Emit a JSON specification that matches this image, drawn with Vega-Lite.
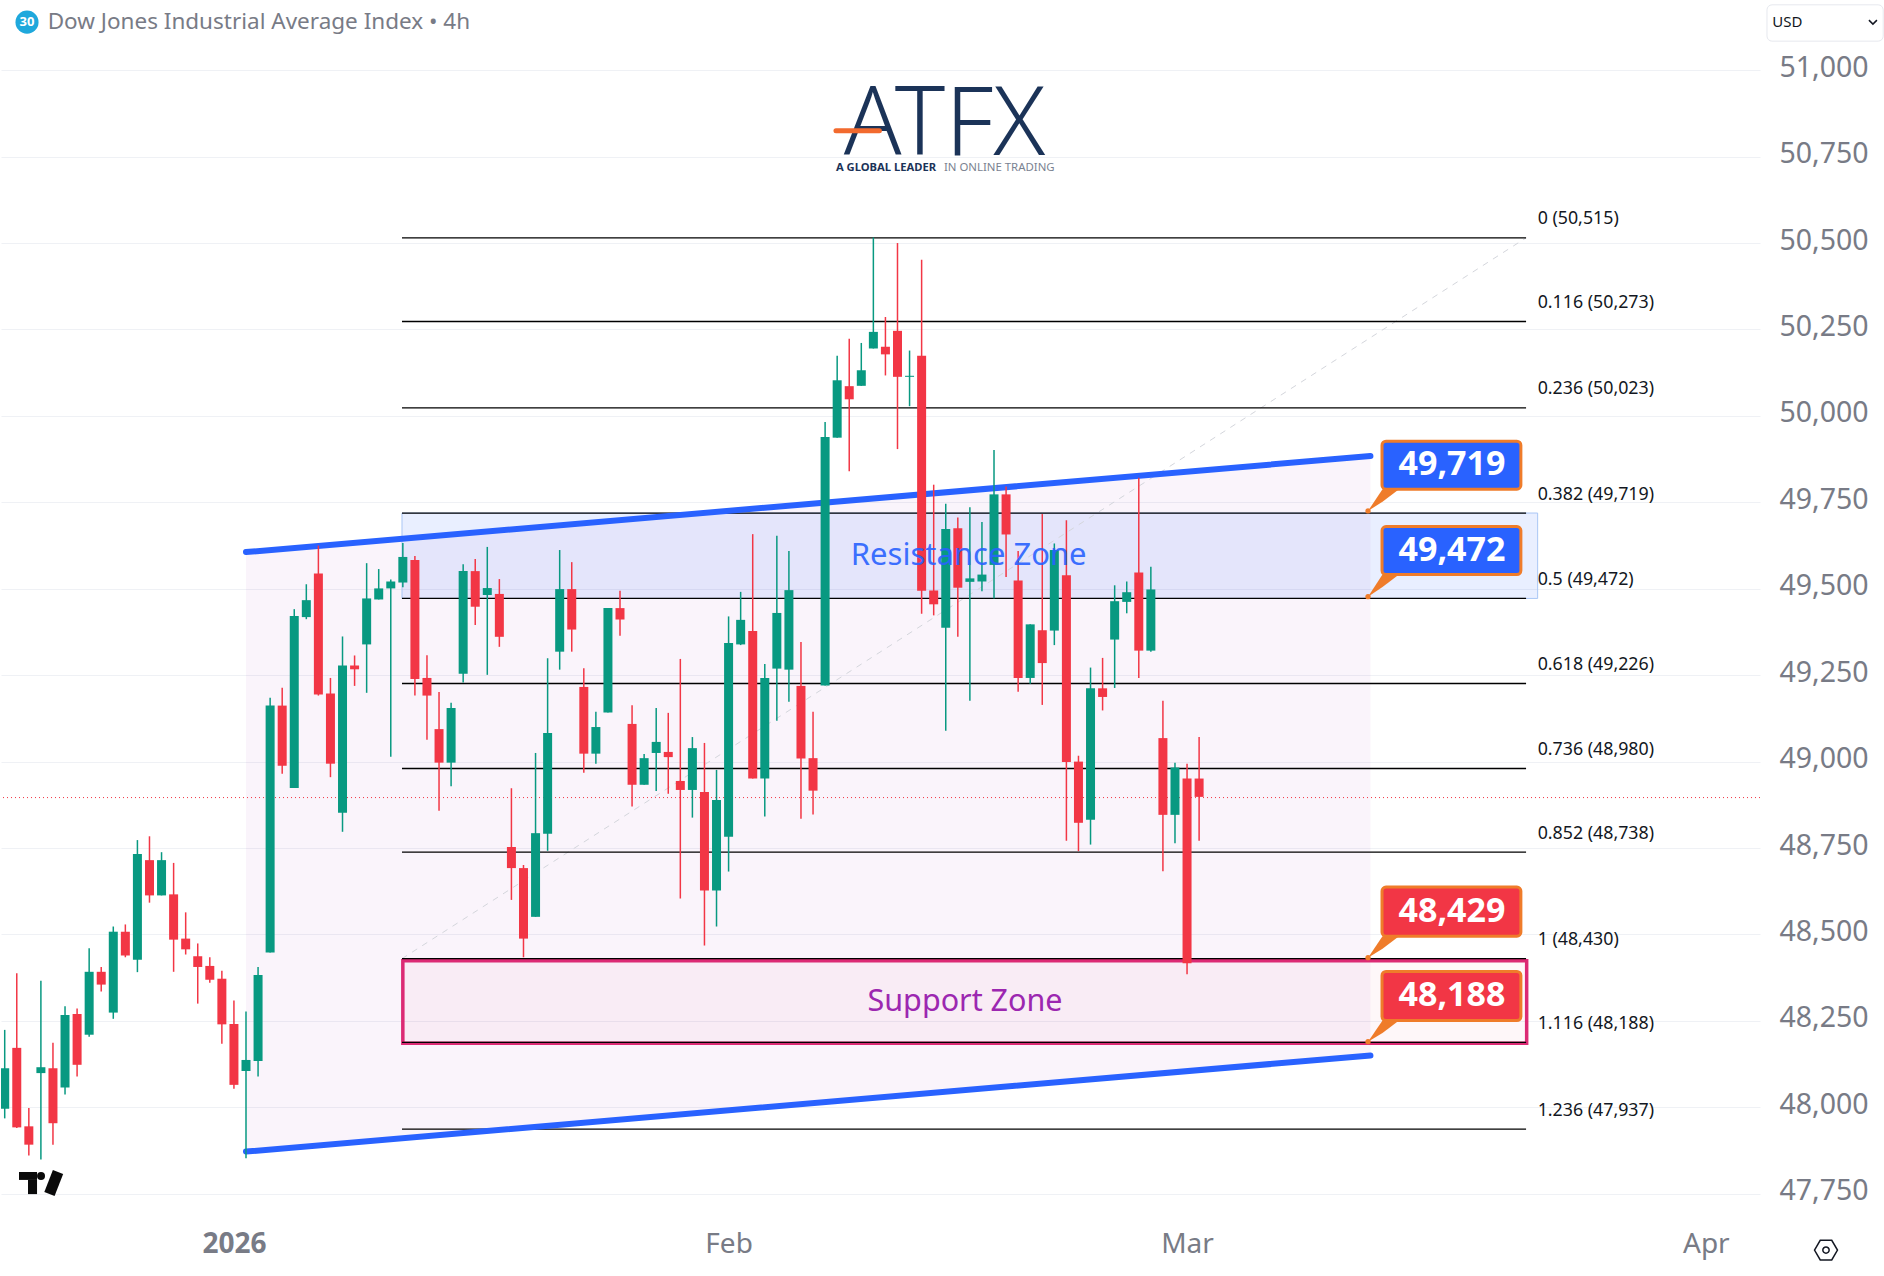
{
"$schema":"https://vega.github.io/schema/vega-lite/v6.json",
"width":1759,"height":1210,"padding":0,"background":"#ffffff",
"config":{"view":{"stroke":null},"scale":{"continuousPadding":0},"axis":{"title":null}},
"layer":[
{"data":{"values":[{"i":20,"top":49606,"bot":47872},{"i":113.2,"top":49884,"bot":48150}]},
 "mark":{"type":"area","color":"#9c27b0","opacity":0.05},
 "encoding":{"x":{"field":"i","type":"quantitative","title":null,"scale":{"domain":[-0.307,145.49],"nice":false,"zero":false},
   "axis":{"values":[19,60,98,141],"labelExpr":"datum.value==19?'2026':datum.value==60?'Feb':datum.value==98?'Mar':'Apr'","labelFontWeight":{"condition":{"test":"datum.value==19","value":"bold"},"value":"normal"},"labelFont":"Noto Sans","labelFontSize":28,"labelColor":"#787b86","labelPadding":20,"grid":false,"domain":false,"ticks":false,"labelOverlap":false,"labelFlush":false,"title":null}},
  "y":{"field":"top","type":"quantitative","title":null,"scale":{"domain":[47703,51203],"nice":false,"zero":false},
   "axis":{"orient":"right","values":[47750,48000,48250,48500,48750,49000,49250,49500,49750,50000,50250,50500,50750,51000],"labelExpr":"format(datum.value,',')","grid":true,"gridColor":"#eff1f5","gridWidth":1,"domain":false,"ticks":false,"labelPadding":19,"labelOffset":-3,"labelFont":"Noto Sans","labelFontSize":28.5,"labelColor":"#787b86","labelOverlap":false,"labelBound":false,"title":null}},
  "y2":{"field":"bot"}}},
{"data":{"values":[{"a":32.93,"b":127.06,"top":49719,"bot":49472}]},
 "mark":{"type":"rect","fill":"#2962ff","fillOpacity":0.1,"stroke":"#a9c6f5","strokeWidth":1},
 "encoding":{"x":{"field":"a","type":"quantitative","scale":{"domain":[-0.307,145.49],"nice":false,"zero":false}},"x2":{"field":"b"},
  "y":{"field":"top","type":"quantitative","scale":{"domain":[47703,51203],"nice":false,"zero":false}},"y2":{"field":"bot"}}},
{"data":{"values":[{"a":33,"b":126.15,"top":48424,"bot":48185}]},
 "mark":{"type":"rect","fill":"#e91e63","fillOpacity":0.035,"stroke":"#dc2a74","strokeWidth":3.5},
 "encoding":{"x":{"field":"a","type":"quantitative","scale":{"domain":[-0.307,145.49],"nice":false,"zero":false}},"x2":{"field":"b"},
  "y":{"field":"top","type":"quantitative","scale":{"domain":[47703,51203],"nice":false,"zero":false}},"y2":{"field":"bot"}}},
{"data":{"values":[{"i":32.93,"p":48430},{"i":126.1,"p":50515}]},
 "mark":{"type":"line","color":"#d4d6dc","strokeWidth":1,"strokeDash":[6,6]},
 "encoding":{"x":{"field":"i","type":"quantitative","scale":{"domain":[-0.307,145.49],"nice":false,"zero":false}},
  "y":{"field":"p","type":"quantitative","scale":{"domain":[47703,51203],"nice":false,"zero":false}}}},
{"data":{"name":"fib","values":[
 {"a":32.93,"b":126.1,"l":127.06,"p":50515,"t":"0 (50,515)"},
 {"a":32.93,"b":126.1,"l":127.06,"p":50273,"t":"0.116 (50,273)"},
 {"a":32.93,"b":126.1,"l":127.06,"p":50023,"t":"0.236 (50,023)"},
 {"a":32.93,"b":126.1,"l":127.06,"p":49719,"t":"0.382 (49,719)"},
 {"a":32.93,"b":126.1,"l":127.06,"p":49472,"t":"0.5 (49,472)"},
 {"a":32.93,"b":126.1,"l":127.06,"p":49226,"t":"0.618 (49,226)"},
 {"a":32.93,"b":126.1,"l":127.06,"p":48980,"t":"0.736 (48,980)"},
 {"a":32.93,"b":126.1,"l":127.06,"p":48738,"t":"0.852 (48,738)"},
 {"a":32.93,"b":126.1,"l":127.06,"p":48430,"t":"1 (48,430)"},
 {"a":32.93,"b":126.1,"l":127.06,"p":48188,"t":"1.116 (48,188)"},
 {"a":32.93,"b":126.1,"l":127.06,"p":47937,"t":"1.236 (47,937)"}]},
 "layer":[
 {"mark":{"type":"rule","color":"#000000","strokeWidth":1.3},
  "encoding":{"x":{"field":"a","type":"quantitative","scale":{"domain":[-0.307,145.49],"nice":false,"zero":false}},"x2":{"field":"b"},
   "y":{"field":"p","type":"quantitative","scale":{"domain":[47703,51203],"nice":false,"zero":false}}}},
 {"mark":{"type":"text","align":"left","baseline":"middle","dy":-18.5,"font":"Noto Sans","fontSize":17.8,"color":"#131722"},
  "encoding":{"x":{"field":"l","type":"quantitative","scale":{"domain":[-0.307,145.49],"nice":false,"zero":false}},
   "y":{"field":"p","type":"quantitative","scale":{"domain":[47703,51203],"nice":false,"zero":false}},"text":{"field":"t"}}}
 ]},
{"data":{"values":[{"i":20,"top":49606,"bot":47872},{"i":113.2,"top":49884,"bot":48150}]},
 "layer":[
 {"mark":{"type":"line","color":"#2962ff","strokeWidth":6,"strokeCap":"round"},
  "encoding":{"x":{"field":"i","type":"quantitative","scale":{"domain":[-0.307,145.49],"nice":false,"zero":false}},
   "y":{"field":"top","type":"quantitative","scale":{"domain":[47703,51203],"nice":false,"zero":false}}}},
 {"mark":{"type":"line","color":"#2962ff","strokeWidth":6,"strokeCap":"round"},
  "encoding":{"x":{"field":"i","type":"quantitative","scale":{"domain":[-0.307,145.49],"nice":false,"zero":false}},
   "y":{"field":"bot","type":"quantitative","scale":{"domain":[47703,51203],"nice":false,"zero":false}}}}
 ]},
{"data":{"values":[{"p":48896}]},
 "mark":{"type":"rule","color":"#f23645","strokeWidth":1,"strokeDash":[1,3]},
 "encoding":{"y":{"field":"p","type":"quantitative","scale":{"domain":[47703,51203],"nice":false,"zero":false}}}},
{"data":{"name":"candles","values":[
{"i":0,"o":47996,"h":48224,"l":47968,"c":48113},
{"i":1,"o":48172,"h":48388,"l":47940,"c":47942},
{"i":2,"o":47945,"h":47998,"l":47861,"c":47892},
{"i":3,"o":48099,"h":48366,"l":47849,"c":48116},
{"i":4,"o":48113,"h":48187,"l":47892,"c":47954},
{"i":5,"o":48057,"h":48292,"l":48037,"c":48267},
{"i":6,"o":48270,"h":48286,"l":48089,"c":48123},
{"i":7,"o":48210,"h":48460,"l":48204,"c":48392},
{"i":8,"o":48392,"h":48406,"l":48335,"c":48355},
{"i":9,"o":48274,"h":48523,"l":48256,"c":48508},
{"i":10,"o":48508,"h":48529,"l":48434,"c":48439},
{"i":11,"o":48427,"h":48773,"l":48391,"c":48733},
{"i":12,"o":48715,"h":48784,"l":48592,"c":48613},
{"i":13,"o":48613,"h":48738,"l":48613,"c":48715},
{"i":14,"o":48616,"h":48707,"l":48392,"c":48485},
{"i":15,"o":48488,"h":48564,"l":48442,"c":48457},
{"i":16,"o":48437,"h":48474,"l":48300,"c":48406},
{"i":17,"o":48409,"h":48434,"l":48360,"c":48369},
{"i":18,"o":48372,"h":48395,"l":48184,"c":48240},
{"i":19,"o":48241,"h":48309,"l":48054,"c":48065},
{"i":20,"o":48105,"h":48277,"l":47853,"c":48137},
{"i":21,"o":48134,"h":48406,"l":48089,"c":48383},
{"i":22,"o":48448,"h":49185,"l":48448,"c":49162},
{"i":23,"o":49162,"h":49214,"l":48965,"c":48988},
{"i":24,"o":48924,"h":49441,"l":48924,"c":49421},
{"i":25,"o":49418,"h":49513,"l":49412,"c":49467},
{"i":26,"o":49544,"h":49625,"l":49191,"c":49194},
{"i":27,"o":49197,"h":49242,"l":48955,"c":48994},
{"i":28,"o":48852,"h":49362,"l":48797,"c":49278},
{"i":29,"o":49278,"h":49307,"l":49219,"c":49267},
{"i":30,"o":49339,"h":49574,"l":49199,"c":49472},
{"i":31,"o":49469,"h":49557,"l":49469,"c":49501},
{"i":32,"o":49501,"h":49527,"l":49014,"c":49521},
{"i":33,"o":49518,"h":49632,"l":49504,"c":49592},
{"i":34,"o":49583,"h":49595,"l":49191,"c":49239},
{"i":35,"o":49242,"h":49308,"l":49063,"c":49191},
{"i":36,"o":49094,"h":49201,"l":48858,"c":48997},
{"i":37,"o":48997,"h":49170,"l":48929,"c":49155},
{"i":38,"o":49254,"h":49571,"l":49229,"c":49551},
{"i":39,"o":49551,"h":49586,"l":49395,"c":49448},
{"i":40,"o":49482,"h":49621,"l":49251,"c":49502},
{"i":41,"o":49485,"h":49528,"l":49332,"c":49361},
{"i":42,"o":48753,"h":48923,"l":48600,"c":48692},
{"i":43,"o":48692,"h":48701,"l":48434,"c":48488},
{"i":44,"o":48551,"h":49025,"l":48551,"c":48793},
{"i":45,"o":48791,"h":49299,"l":48742,"c":49083},
{"i":46,"o":49318,"h":49612,"l":49266,"c":49499},
{"i":47,"o":49499,"h":49577,"l":49318,"c":49382},
{"i":48,"o":49216,"h":49270,"l":48968,"c":49023},
{"i":49,"o":49023,"h":49144,"l":48994,"c":49100},
{"i":50,"o":49142,"h":49444,"l":49142,"c":49444},
{"i":51,"o":49444,"h":49494,"l":49364,"c":49411},
{"i":52,"o":49109,"h":49163,"l":48870,"c":48933},
{"i":53,"o":48933,"h":49022,"l":48933,"c":49010},
{"i":54,"o":49025,"h":49155,"l":48915,"c":49057},
{"i":55,"o":49028,"h":49141,"l":48907,"c":49013},
{"i":56,"o":48944,"h":49297,"l":48604,"c":48918},
{"i":57,"o":48918,"h":49071,"l":48838,"c":49039},
{"i":58,"o":48912,"h":49054,"l":48468,"c":48627},
{"i":59,"o":48627,"h":48976,"l":48523,"c":48889},
{"i":60,"o":48783,"h":49420,"l":48682,"c":49343},
{"i":61,"o":49339,"h":49491,"l":49337,"c":49410},
{"i":62,"o":49378,"h":49658,"l":48951,"c":48951},
{"i":63,"o":48951,"h":49282,"l":48841,"c":49242},
{"i":64,"o":49269,"h":49653,"l":49118,"c":49430},
{"i":65,"o":49266,"h":49609,"l":49173,"c":49496},
{"i":66,"o":49219,"h":49346,"l":48835,"c":49009},
{"i":67,"o":49010,"h":49144,"l":48847,"c":48916},
{"i":68,"o":49220,"h":49982,"l":49220,"c":49939},
{"i":69,"o":49937,"h":50174,"l":49937,"c":50103},
{"i":70,"o":50086,"h":50223,"l":49840,"c":50048},
{"i":71,"o":50087,"h":50211,"l":50087,"c":50132},
{"i":72,"o":50195,"h":50516,"l":50195,"c":50243},
{"i":73,"o":50200,"h":50286,"l":50117,"c":50178},
{"i":74,"o":50246,"h":50500,"l":49904,"c":50113},
{"i":75,"o":50113,"h":50189,"l":50028,"c":50116},
{"i":76,"o":50174,"h":50452,"l":49428,"c":49494},
{"i":77,"o":49495,"h":49801,"l":49423,"c":49455},
{"i":78,"o":49387,"h":49746,"l":49089,"c":49673},
{"i":79,"o":49675,"h":49706,"l":49361,"c":49503},
{"i":80,"o":49520,"h":49736,"l":49176,"c":49530},
{"i":81,"o":49521,"h":49693,"l":49493,"c":49541},
{"i":82,"o":49569,"h":49901,"l":49472,"c":49773},
{"i":83,"o":49773,"h":49796,"l":49534,"c":49657},
{"i":84,"o":49524,"h":49609,"l":49202,"c":49242},
{"i":85,"o":49242,"h":49397,"l":49225,"c":49397},
{"i":86,"o":49380,"h":49716,"l":49164,"c":49285},
{"i":87,"o":49379,"h":49631,"l":49337,"c":49612},
{"i":88,"o":49539,"h":49698,"l":48771,"c":48999},
{"i":89,"o":49000,"h":49017,"l":48741,"c":48823},
{"i":90,"o":48832,"h":49272,"l":48760,"c":49212},
{"i":91,"o":49212,"h":49300,"l":49148,"c":49187},
{"i":92,"o":49353,"h":49510,"l":49213,"c":49464},
{"i":93,"o":49462,"h":49521,"l":49429,"c":49490},
{"i":94,"o":49547,"h":49821,"l":49242,"c":49321},
{"i":95,"o":49321,"h":49564,"l":49318,"c":49498},
{"i":96,"o":49068,"h":49176,"l":48683,"c":48846},
{"i":97,"o":48846,"h":48997,"l":48764,"c":48983},
{"i":98,"o":48951,"h":48994,"l":48385,"c":48417},
{"i":99,"o":48951,"h":49071,"l":48771,"c":48898}]},
 "layer":[
 {"mark":{"type":"rule","strokeWidth":1.5,"clip":true},
  "encoding":{"x":{"field":"i","type":"quantitative","scale":{"domain":[-0.307,145.49],"nice":false,"zero":false}},
   "y":{"field":"l","type":"quantitative","scale":{"domain":[47703,51203],"nice":false,"zero":false}},"y2":{"field":"h"},
   "color":{"condition":{"test":"datum.c>=datum.o","value":"#089981"},"value":"#f23645"}}},
 {"mark":{"type":"bar","width":9,"clip":true},
  "encoding":{"x":{"field":"i","type":"quantitative","scale":{"domain":[-0.307,145.49],"nice":false,"zero":false}},
   "y":{"field":"o","type":"quantitative","scale":{"domain":[47703,51203],"nice":false,"zero":false}},"y2":{"field":"c"},
   "color":{"condition":{"test":"datum.c>=datum.o","value":"#089981"},"value":"#f23645"}}}
 ]},
{"data":{"values":[
 {"k":"a","i":113,"y1":49725,"y2":49725},{"k":"a","i":114.2,"y1":49788,"y2":49752},{"k":"a","i":115.57,"y1":49788,"y2":49788},
 {"k":"b","i":113,"y1":49477,"y2":49477},{"k":"b","i":114.2,"y1":49541,"y2":49505},{"k":"b","i":115.57,"y1":49541,"y2":49541},
 {"k":"c","i":113,"y1":48433,"y2":48433},{"k":"c","i":114.2,"y1":48495,"y2":48459},{"k":"c","i":115.57,"y1":48495,"y2":48495},
 {"k":"d","i":113,"y1":48190,"y2":48190},{"k":"d","i":114.2,"y1":48251,"y2":48215},{"k":"d","i":115.57,"y1":48251,"y2":48251}]},
 "mark":{"type":"area","color":"#ef7c2a"},
 "encoding":{"x":{"field":"i","type":"quantitative","scale":{"domain":[-0.307,145.49],"nice":false,"zero":false}},
  "y":{"field":"y1","type":"quantitative","scale":{"domain":[47703,51203],"nice":false,"zero":false}},"y2":{"field":"y2"},"detail":{"field":"k"}}},
{"data":{"values":[{"i":113,"p":49725},{"i":113,"p":49477},{"i":113,"p":48433},{"i":113,"p":48190}]},
 "mark":{"type":"point","filled":true,"size":28,"color":"#ef7c2a","opacity":1},
 "encoding":{"x":{"field":"i","type":"quantitative","scale":{"domain":[-0.307,145.49],"nice":false,"zero":false}},
  "y":{"field":"p","type":"quantitative","scale":{"domain":[47703,51203],"nice":false,"zero":false}}}},
{"data":{"values":[
 {"a":114.16,"b":125.67,"top":49927,"bot":49788,"m":119.96,"mid":49857,"t":"49,719","kind":"res"},
 {"a":114.16,"b":125.67,"top":49680,"bot":49541,"m":119.96,"mid":49610,"t":"49,472","kind":"res"},
 {"a":114.16,"b":125.67,"top":48637,"bot":48495,"m":119.96,"mid":48566,"t":"48,429","kind":"sup"},
 {"a":114.16,"b":125.67,"top":48393,"bot":48251,"m":119.96,"mid":48322,"t":"48,188","kind":"sup"}]},
 "layer":[
 {"mark":{"type":"rect","stroke":"#ef7c2a","strokeWidth":3,"cornerRadius":4},
  "encoding":{"x":{"field":"a","type":"quantitative","scale":{"domain":[-0.307,145.49],"nice":false,"zero":false}},"x2":{"field":"b"},
   "y":{"field":"top","type":"quantitative","scale":{"domain":[47703,51203],"nice":false,"zero":false}},"y2":{"field":"bot"},
   "fill":{"field":"kind","scale":{"domain":["res","sup"],"range":["#2962ff","#f23645"]},"legend":null}}},
 {"mark":{"type":"text","align":"center","baseline":"middle","font":"Noto Sans","fontWeight":"bold","fontSize":34,"color":"#ffffff"},
  "encoding":{"x":{"field":"m","type":"quantitative","scale":{"domain":[-0.307,145.49],"nice":false,"zero":false}},
   "y":{"field":"mid","type":"quantitative","scale":{"domain":[47703,51203],"nice":false,"zero":false}},"text":{"field":"t"}}}
 ]},
{"data":{"values":[{"i":79.9,"p":49595,"t":"Resistance Zone"}]},
 "mark":{"type":"text","align":"center","baseline":"middle","font":"Noto Sans","fontSize":31,"color":"#2962ff","opacity":0.9},
 "encoding":{"x":{"field":"i","type":"quantitative","scale":{"domain":[-0.307,145.49],"nice":false,"zero":false}},
  "y":{"field":"p","type":"quantitative","scale":{"domain":[47703,51203],"nice":false,"zero":false}},"text":{"field":"t"}}},
{"data":{"values":[{"i":79.6,"p":48305,"t":"Support Zone"}]},
 "mark":{"type":"text","align":"center","baseline":"middle","font":"Noto Sans","fontSize":30.5,"color":"#9c27b0"},
 "encoding":{"x":{"field":"i","type":"quantitative","scale":{"domain":[-0.307,145.49],"nice":false,"zero":false}},
  "y":{"field":"p","type":"quantitative","scale":{"domain":[47703,51203],"nice":false,"zero":false}},"text":{"field":"t"}}},
{"data":{"values":[{"i":3.56,"p":51139,"t":"Dow Jones Industrial Average Index • 4h"}]},
 "mark":{"type":"text","align":"left","baseline":"middle","font":"Noto Sans","fontSize":22.5,"color":"#787b86"},
 "encoding":{"x":{"field":"i","type":"quantitative","scale":{"domain":[-0.307,145.49],"nice":false,"zero":false}},
  "y":{"field":"p","type":"quantitative","scale":{"domain":[47703,51203],"nice":false,"zero":false}},"text":{"field":"t"}}},
{"data":{"values":[{"i":1.85,"p":51139,"t":"30"}]},
 "layer":[
 {"mark":{"type":"point","shape":"circle","filled":true,"size":531,"color":"#1fa8dc","opacity":1},
  "encoding":{"x":{"field":"i","type":"quantitative","scale":{"domain":[-0.307,145.49],"nice":false,"zero":false}},
   "y":{"field":"p","type":"quantitative","scale":{"domain":[47703,51203],"nice":false,"zero":false}}}},
 {"mark":{"type":"text","align":"center","baseline":"middle","font":"Noto Sans","fontWeight":"bold","fontSize":13,"color":"#ffffff"},
  "encoding":{"x":{"field":"i","type":"quantitative","scale":{"domain":[-0.307,145.49],"nice":false,"zero":false}},
   "y":{"field":"p","type":"quantitative","scale":{"domain":[47703,51203],"nice":false,"zero":false}},"text":{"field":"t"}}}
 ]},
{"data":{"values":[{"a":146.07,"b":155.7,"top":51189,"bot":51084}]},
 "mark":{"type":"rect","fill":"#ffffff","stroke":"#e6e8ee","strokeWidth":1,"cornerRadius":5},
 "encoding":{"x":{"field":"a","type":"quantitative","scale":{"domain":[-0.307,145.49],"nice":false,"zero":false}},"x2":{"field":"b"},
  "y":{"field":"top","type":"quantitative","scale":{"domain":[47703,51203],"nice":false,"zero":false}},"y2":{"field":"bot"}}},
{"data":{"values":[{"i":146.5,"p":51139,"t":"USD"}]},
 "mark":{"type":"text","align":"left","baseline":"middle","font":"Noto Sans","fontSize":15,"color":"#131722"},
 "encoding":{"x":{"field":"i","type":"quantitative","scale":{"domain":[-0.307,145.49],"nice":false,"zero":false}},
  "y":{"field":"p","type":"quantitative","scale":{"domain":[47703,51203],"nice":false,"zero":false}},"text":{"field":"t"}}},
{"data":{"values":[{"i":154.85,"p":51139}]},
 "mark":{"type":"point","shape":"M-1,-0.5L0,0.5L1,-0.5","filled":false,"size":64,"color":"#131722","strokeWidth":1.5,"opacity":1},
 "encoding":{"x":{"field":"i","type":"quantitative","scale":{"domain":[-0.307,145.49],"nice":false,"zero":false}},
  "y":{"field":"p","type":"quantitative","scale":{"domain":[47703,51203],"nice":false,"zero":false}}}},
{"data":{"values":[{"i":150.96,"p":47587}]},
 "layer":[
 {"mark":{"type":"point","shape":"M-1,0L-0.5,-0.85L0.5,-0.85L1,0L0.5,0.85L-0.5,0.85Z","filled":false,"size":529,"color":"#131722","strokeWidth":1.5,"opacity":1},
  "encoding":{"x":{"field":"i","type":"quantitative","scale":{"domain":[-0.307,145.49],"nice":false,"zero":false}},
   "y":{"field":"p","type":"quantitative","scale":{"domain":[47703,51203],"nice":false,"zero":false}}}},
 {"mark":{"type":"point","shape":"circle","filled":false,"size":40,"color":"#131722","strokeWidth":1.5,"opacity":1},
  "encoding":{"x":{"field":"i","type":"quantitative","scale":{"domain":[-0.307,145.49],"nice":false,"zero":false}},
   "y":{"field":"p","type":"quantitative","scale":{"domain":[47703,51203],"nice":false,"zero":false}}}}
 ]},
{"data":{"values":[{"a":1.185,"b":2.68,"top":47813,"bot":47790},{"a":1.93,"b":2.68,"top":47790,"bot":47749}]},
 "mark":{"type":"rect","color":"#0a0a0a","opacity":1},
 "encoding":{"x":{"field":"a","type":"quantitative","scale":{"domain":[-0.307,145.49],"nice":false,"zero":false}},"x2":{"field":"b"},
  "y":{"field":"top","type":"quantitative","scale":{"domain":[47703,51203],"nice":false,"zero":false}},"y2":{"field":"bot"}}},
{"data":{"values":[{"i":3.01,"p":47801}]},
 "mark":{"type":"point","shape":"circle","filled":true,"size":64,"color":"#0a0a0a","opacity":1},
 "encoding":{"x":{"field":"i","type":"quantitative","scale":{"domain":[-0.307,145.49],"nice":false,"zero":false}},
  "y":{"field":"p","type":"quantitative","scale":{"domain":[47703,51203],"nice":false,"zero":false}}}},
{"data":{"values":[{"a":4.42,"b":3.71,"top":47813,"bot":47749}]},
 "mark":{"type":"rule","color":"#0a0a0a","strokeWidth":11},
 "encoding":{"x":{"field":"a","type":"quantitative","scale":{"domain":[-0.307,145.49],"nice":false,"zero":false}},"x2":{"field":"b"},
  "y":{"field":"top","type":"quantitative","scale":{"domain":[47703,51203],"nice":false,"zero":false}},"y2":{"field":"bot"}}},
{"data":{"values":[{"i":77.9,"p":50754,"t":"ATFX"}]},
 "mark":{"type":"text","align":"center","baseline":"alphabetic","font":"Noto Sans","fontWeight":300,"fontSize":95,"color":"#1b3358"},
 "encoding":{"x":{"field":"i","type":"quantitative","scale":{"domain":[-0.307,145.49],"nice":false,"zero":false}},
  "y":{"field":"p","type":"quantitative","scale":{"domain":[47703,51203],"nice":false,"zero":false}},"text":{"field":"t"}}},
{"data":{"values":[{"a":68.9,"b":72.5,"p":50825}]},
 "mark":{"type":"rule","color":"#f26a2e","strokeWidth":5,"strokeCap":"round"},
 "encoding":{"x":{"field":"a","type":"quantitative","scale":{"domain":[-0.307,145.49],"nice":false,"zero":false}},"x2":{"field":"b"},
  "y":{"field":"p","type":"quantitative","scale":{"domain":[47703,51203],"nice":false,"zero":false}}}},
{"data":{"values":[{"i":68.9,"p":50718,"t":"A GLOBAL LEADER"}]},
 "mark":{"type":"text","align":"left","baseline":"middle","font":"Noto Sans","fontWeight":"bold","fontSize":11.2,"color":"#1b3358"},
 "encoding":{"x":{"field":"i","type":"quantitative","scale":{"domain":[-0.307,145.49],"nice":false,"zero":false}},
  "y":{"field":"p","type":"quantitative","scale":{"domain":[47703,51203],"nice":false,"zero":false}},"text":{"field":"t"}}},
{"data":{"values":[{"i":77.85,"p":50718,"t":"IN ONLINE TRADING"}]},
 "mark":{"type":"text","align":"left","baseline":"middle","font":"Noto Sans","fontSize":11.4,"color":"#7a8291"},
 "encoding":{"x":{"field":"i","type":"quantitative","scale":{"domain":[-0.307,145.49],"nice":false,"zero":false}},
  "y":{"field":"p","type":"quantitative","scale":{"domain":[47703,51203],"nice":false,"zero":false}},"text":{"field":"t"}}}
]
}
